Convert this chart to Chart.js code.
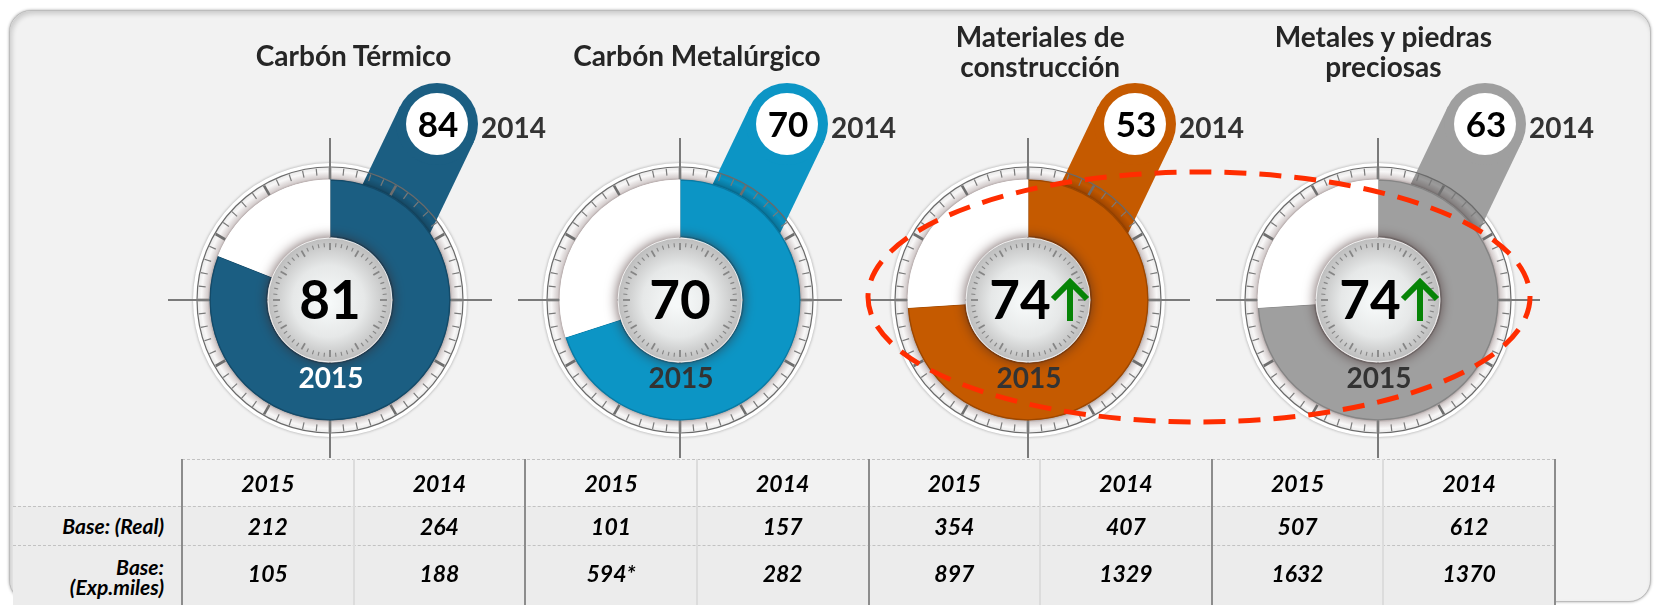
<!DOCTYPE html>
<html>
<head>
<meta charset="utf-8">
<script src="https://cdn.jsdelivr.net/npm/chart.js@4.4.1/dist/chart.umd.min.js"></script>
<style>
  html, body { margin: 0; padding: 0; background: #ffffff; }
  #stage { position: relative; width: 1659px; height: 605px; overflow: hidden; font-family: Lato, "Open Sans", sans-serif; }
  #card { position: absolute; left: 9px; top: 10px; width: 1640px; height: 590px; background: #f2f2f2;
          border-radius: 22px; border: 1px solid #bcbcbc;
          box-shadow: 0 0 3px rgba(0,0,0,0.35), inset 2px 3px 5px rgba(0,0,0,0.16); }
  canvas { position: absolute; left: 0; top: 0; }
  .title { position: absolute; width: 360px; text-align: center; font-weight: 700; font-size: 28px;
           line-height: 30px; color: #262626; white-space: nowrap; }
  .cell { position: absolute; display: flex; align-items: center; justify-content: center;
          font-weight: 700; font-style: italic; font-size: 23px; color: #000000; }
  .lbl { justify-content: flex-end; text-align: right; font-size: 21px; line-height: 20px; }
  .hline { position: absolute; height: 0; border-top: 1px dashed #c2c2c2; }
  .vline { position: absolute; width: 2px; }
</style>
</head>
<body>
<div id="stage">
  <div id="card"></div>
  <canvas id="g0" width="1659" height="605"></canvas>
  <canvas id="g1" width="1659" height="605"></canvas>
  <canvas id="g2" width="1659" height="605"></canvas>
  <canvas id="g3" width="1659" height="605"></canvas>
</div>
<script>
// ---- data ----
const categories = [['Carbón Térmico'], ['Carbón Metalúrgico'], ['Materiales de', 'construcción'], ['Metales y piedras', 'preciosas']];
const score2015 = [81, 70, 74, 74];
const score2014 = [84, 70, 53, 63];
const years = ['2015', '2014'];
const rowLabels = [['Base: (Real)'], ['Base:', '(Exp.miles)']];
const baseReal2015 = ['212', '101', '354', '507'];
const baseReal2014 = ['264', '157', '407', '612'];
const baseExp2015 = ['105', '594*', '897', '1632'];
const baseExp2014 = ['188', '282', '1329', '1370'];

// ---- styling ----
const palette = ['#1b5e82', '#0c95c5', '#c55a00', '#9f9f9f'];
const rimInk = ['#144a68', '#0a7aa3', '#9c4700', '#858585'];
const yearInk = ['#ffffff', '#333333', '#333333', '#333333'];
const gaugeX = [330, 680, 1028, 1378];
const gaugeY = 300;
const FONT = 'Lato, "Open Sans", sans-serif';

const stage = document.getElementById('stage');
function el(cls, css, html) {
  const d = document.createElement('div');
  d.className = cls;
  Object.assign(d.style, css);
  if (html !== undefined) d.innerHTML = html;
  stage.appendChild(d);
  return d;
}

// ---- table ----
const colW = (1555 - 182) / 8;
const colX = i => 182 + i * colW;
const rowTop = [459, 506, 545, 600];
el('', { position: 'absolute', left: '13px', top: '506px', width: '1542px', height: '99px', background: '#ececec' });

// titles, centred over each pair of columns
categories.forEach((lines, i) => {
  const c = colX(i * 2 + 1);
  el('title', { left: (c - 180) + 'px', top: (lines.length > 1 ? 21 : 40) + 'px' }, lines.join('<br>'));
});

const rows = [
  [baseReal2015, baseReal2014],
  [baseExp2015, baseExp2014]
];
for (let g = 0; g < 4; g++) {
  for (let k = 0; k < 2; k++) {
    const left = colX(g * 2 + k);
    el('cell', { left: left + 'px', top: rowTop[0] + 'px', width: colW + 'px', height: (rowTop[1] - rowTop[0]) + 'px' }, years[k]);
    rows.forEach((r, ri) => {
      el('cell', { left: left + 'px', top: rowTop[ri + 1] + 'px', width: colW + 'px', height: (rowTop[ri + 2] - rowTop[ri + 1]) + 'px' }, r[k][g]);
    });
  }
}
rowLabels.forEach((lines, ri) => {
  el('cell lbl', { left: '13px', top: rowTop[ri + 1] + 'px', width: '151px', height: (rowTop[ri + 2] - rowTop[ri + 1] + (ri ? 8 : 0)) + 'px' }, lines.join('<br>'));
});

// grid lines
el('hline', { left: '182px', top: rowTop[0] + 'px', width: (1555 - 182) + 'px' });
el('hline', { left: '13px', top: rowTop[1] + 'px', width: (1555 - 13) + 'px' });
el('hline', { left: '13px', top: rowTop[2] + 'px', width: (1555 - 13) + 'px' });
for (let i = 0; i <= 8; i++) {
  el('vline', { left: (colX(i) - 1) + 'px', top: rowTop[0] + 'px', height: (605 - rowTop[0]) + 'px',
                background: i % 2 === 0 ? '#8c8c8c' : '#dcdcdc' });
}

// ---- gauge decoration drawn around each doughnut ----
const TAU = Math.PI * 2;
const gaugeDecor = {
  id: 'gaugeDecor',
  beforeDatasetsDraw(chart, args, o) {
    const ctx = chart.ctx;
    const arc = chart.getDatasetMeta(0).data[0];
    const x = arc.x, y = arc.y;
    ctx.save();
    // outer white rim
    ctx.beginPath(); ctx.arc(x, y, 137, 0, TAU);
    ctx.fillStyle = '#ffffff'; ctx.shadowColor = 'rgba(0,0,0,0.35)'; ctx.shadowBlur = 3; ctx.fill();
    ctx.shadowColor = 'transparent'; ctx.shadowBlur = 0;
    // pin leading out to the previous-year badge
    const px = x + 107, py = y - 176, dx = -0.433, dy = 0.902, nx = 0.902, ny = 0.433, w = 41, L = 190;
    ctx.fillStyle = o.color;
    ctx.beginPath();
    ctx.moveTo(px - nx * w, py - ny * w);
    ctx.lineTo(px - nx * w + dx * L, py - ny * w + dy * L);
    ctx.lineTo(px + nx * w + dx * L, py + ny * w + dy * L);
    ctx.lineTo(px + nx * w, py + ny * w);
    ctx.closePath(); ctx.fill();
    ctx.beginPath(); ctx.arc(px, py, w, 0, TAU); ctx.fill();
    // bezel shading
    ctx.globalCompositeOperation = 'multiply';
    const g = ctx.createRadialGradient(x, y, 118, x, y, 133);
    g.addColorStop(0, '#8f8080'); g.addColorStop(0.3, '#d6cfcf'); g.addColorStop(0.7, '#f8f7f7'); g.addColorStop(1, '#e9e9e9');
    ctx.beginPath(); ctx.arc(x, y, 133, 0, TAU); ctx.arc(x, y, 117, 0, TAU, true);
    ctx.fillStyle = g; ctx.fill();
    ctx.globalCompositeOperation = 'source-over';
    ctx.beginPath(); ctx.arc(x, y, 133, 0, TAU);
    ctx.strokeStyle = '#6a6a6a'; ctx.lineWidth = 1.2; ctx.stroke();
    // bezel ticks
    for (let i = 0; i < 60; i++) {
      const t = i * TAU / 60 - Math.PI / 2;
      const major = i % 5 === 0;
      const r0 = major ? 121 : 125;
      ctx.beginPath();
      ctx.moveTo(x + Math.cos(t) * r0, y + Math.sin(t) * r0);
      ctx.lineTo(x + Math.cos(t) * 132, y + Math.sin(t) * 132);
      ctx.strokeStyle = major ? '#6e6e6e' : '#7a7a7a';
      ctx.lineWidth = major ? 2.6 : 1.2;
      ctx.stroke();
    }
    // cross hair
    ctx.strokeStyle = '#7a7a7a'; ctx.lineWidth = 2;
    ctx.beginPath();
    ctx.moveTo(x - 162, y); ctx.lineTo(x + 162, y);
    ctx.moveTo(x, y - 162); ctx.lineTo(x, y + 158);
    ctx.stroke();
    // previous-year badge
    ctx.beginPath(); ctx.arc(px, py, 31, 0, TAU); ctx.fillStyle = '#ffffff'; ctx.fill();
    ctx.fillStyle = '#000000'; ctx.textAlign = 'center'; ctx.textBaseline = 'alphabetic';
    ctx.font = '700 35px ' + FONT;
    ctx.fillText(String(o.prev), px + 1, py + 13);
    ctx.fillStyle = '#333333'; ctx.textAlign = 'left';
    ctx.font = '700 28px ' + FONT;
    ctx.fillText(years[1], px + 44, py + 14);
    ctx.restore();
  },
  afterDatasetsDraw(chart, args, o) {
    const ctx = chart.ctx;
    const arc = chart.getDatasetMeta(0).data[0];
    const x = arc.x, y = arc.y;
    const value = chart.data.datasets[0].data[0];
    ctx.save();
    // centre dial
    ctx.beginPath(); ctx.arc(x, y, 62, 0, TAU);
    ctx.shadowColor = 'rgba(60,35,35,0.8)'; ctx.shadowBlur = 13;
    const dg = ctx.createRadialGradient(x - 3, y + 3, 4, x, y, 62);
    dg.addColorStop(0, '#f6f9f9'); dg.addColorStop(0.55, '#e6e8e8'); dg.addColorStop(1, '#bdbdbd');
    ctx.fillStyle = dg; ctx.fill();
    ctx.shadowColor = 'transparent'; ctx.shadowBlur = 0;
    ctx.strokeStyle = 'rgba(255,255,255,0.8)'; ctx.lineWidth = 1; ctx.stroke();
    for (let i = 0; i < 60; i++) {
      const t = i * TAU / 60 - Math.PI / 2;
      const major = i % 5 === 0;
      const r0 = major ? 50 : 53;
      ctx.beginPath();
      ctx.moveTo(x + Math.cos(t) * r0, y + Math.sin(t) * r0);
      ctx.lineTo(x + Math.cos(t) * 57, y + Math.sin(t) * 57);
      ctx.strokeStyle = '#858585'; ctx.lineWidth = major ? 1.8 : 1.1;
      ctx.stroke();
    }
    // current value, with an arrow when it rose over the previous year
    const up = value > o.prev;
    ctx.fillStyle = '#000000'; ctx.textAlign = 'center'; ctx.textBaseline = 'alphabetic';
    ctx.font = '700 53px ' + FONT;
    ctx.fillText(String(value), x + (up ? -8 : 0), y + 19);
    if (up) {
      const ax = x + 42;
      ctx.strokeStyle = '#078407'; ctx.lineWidth = 6; ctx.lineCap = 'butt'; ctx.lineJoin = 'miter';
      ctx.beginPath(); ctx.moveTo(ax, y + 21); ctx.lineTo(ax, y - 16); ctx.stroke();
      ctx.beginPath(); ctx.moveTo(ax - 17, y - 1); ctx.lineTo(ax, y - 18); ctx.lineTo(ax + 17, y - 1); ctx.stroke();
    }
    ctx.fillStyle = o.yearColor;
    ctx.font = '700 28px ' + FONT;
    ctx.fillText(years[0], x + 1, y + 88);
    ctx.restore();
  },
  afterDraw(chart, args, o) {
    if (!o.highlight) return;
    // dashed ring around the gauges that improved
    const ctx = chart.ctx;
    const xs = o.highlight.map(i => gaugeX[i]);
    const cx = (Math.min(...xs) + Math.max(...xs)) / 2;
    const rx = (Math.max(...xs) - Math.min(...xs)) / 2 + 156;
    ctx.save();
    ctx.beginPath();
    ctx.ellipse(cx - 4, gaugeY - 3, rx, 125, 0, 0, TAU);
    ctx.strokeStyle = '#ff2d00'; ctx.lineWidth = 5; ctx.setLineDash([22, 13]);
    ctx.stroke();
    ctx.restore();
  }
};

const improved = score2015.map((v, i) => v > score2014[i] ? i : -1).filter(i => i >= 0);

score2015.forEach((v, i) => {
  const cx = gaugeX[i];
  new Chart(document.getElementById('g' + i), {
    type: 'doughnut',
    data: {
      labels: [years[0], ''],
      datasets: [{
        data: [v, 100 - v],
        backgroundColor: [palette[i], '#ffffff'],
        borderColor: [rimInk[i], '#ffffff'],
        borderWidth: 1,
        borderAlign: 'inner',
        hoverOffset: 0
      }]
    },
    options: {
      responsive: false,
      maintainAspectRatio: false,
      devicePixelRatio: 1,
      animation: false,
      events: [],
      cutout: '52%',
      rotation: 0,
      circumference: 360,
      layout: { padding: { left: cx - 120.5, right: 1659 - cx - 120.5, top: gaugeY - 120.5, bottom: 605 - gaugeY - 120.5 } },
      plugins: {
        legend: { display: false },
        tooltip: { enabled: false },
        gaugeDecor: {
          color: palette[i],
          prev: score2014[i],
          yearColor: yearInk[i],
          highlight: i === score2015.length - 1 ? improved : null
        }
      }
    },
    plugins: [gaugeDecor]
  });
});
</script>
</body>
</html>
